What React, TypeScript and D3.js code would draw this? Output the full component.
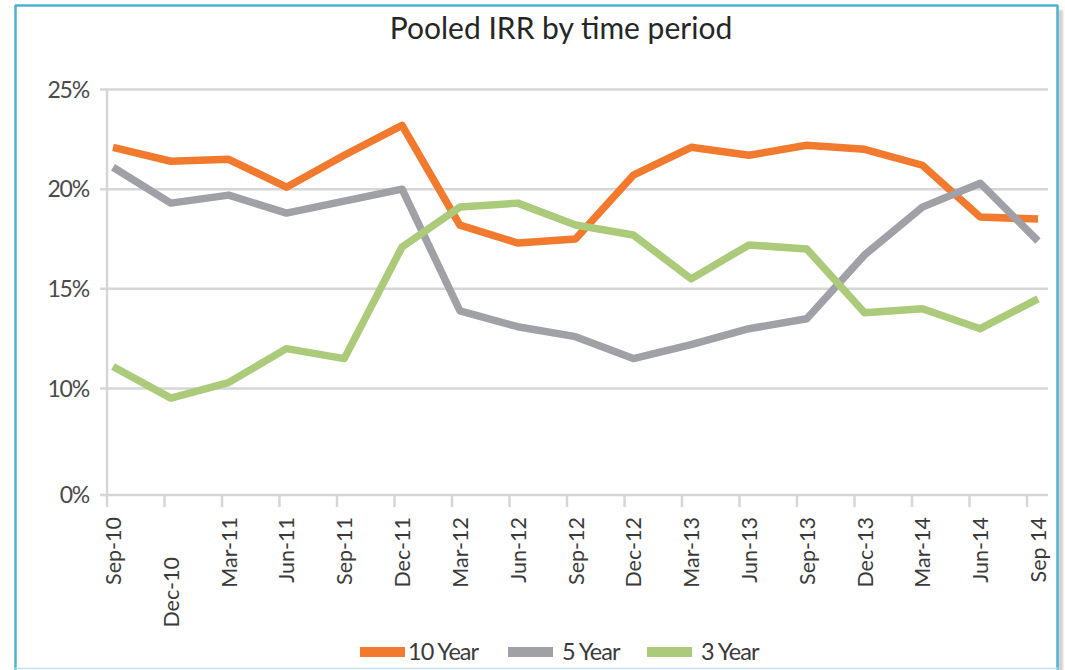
import React from "react";
import * as d3 from "d3";

const categories = ["Sep-10","Dec-10","Mar-11","Jun-11","Sep-11","Dec-11","Mar-12","Jun-12","Sep-12","Dec-12","Mar-13","Jun-13","Sep-13","Dec-13","Mar-14","Jun-14","Sep 14"];
const tenYear = [22.1,21.4,21.5,20.1,21.7,23.2,18.2,17.3,17.5,20.7,22.1,21.7,22.2,22.0,21.2,18.6,18.5];
const fiveYear = [21.1,19.3,19.7,18.8,19.4,20.0,13.9,13.1,12.6,11.5,12.2,13.0,13.5,16.7,19.1,20.3,17.4];
const threeYear = [11.1,9.1,10.3,12.0,11.5,17.1,19.1,19.3,18.2,17.7,15.5,17.2,17.0,13.8,14.0,13.0,14.5];
const yTicks = [0, 10, 15, 20, 25];
const seriesNames = ["10 Year", "5 Year", "3 Year"];
const seriesColors = ["#F27A2E", "#A0A1A6", "#ABCB7B"];

const FONT = "Lato, 'Open Sans', sans-serif";

export default function App() {
  const series = [tenYear, fiveYear, threeYear];
  const xData = d3.scalePoint<string>().domain(categories).range([113, 1038]);
  const xTick = d3.scalePoint<string>().domain(categories).range([107, 1027]);
  const y = d3.scaleLinear().domain([0, 10, 25]).range([495, 388.5, 89.5]);
  const line = d3
    .line<number>()
    .x((_, i) => xData(categories[i]) as number)
    .y((d) => y(d));

  const gridColor = "#d6d6d8";
  const textColor = "#3a3a3a";

  const legendX = [360, 508, 647];

  return (
    <svg
      width={1065}
      height={670}
      style={{ position: "absolute", left: 0, top: 0, background: "#fff" }}
      fontFamily={FONT}
    >
      <defs>
        <filter id="blur1" x="-10%" y="-10%" width="120%" height="120%">
          <feGaussianBlur stdDeviation="1.2" />
        </filter>
      </defs>
      {/* frame shadow */}
      <rect x={1058} y={10} width={5} height={670} fill="#9a9a9a" opacity={0.45} filter="url(#blur1)" />
      {/* frame */}
      <line x1={15.5} y1={5} x2={15.5} y2={670} stroke="#4DB3D0" strokeWidth={2.5} />
      <line x1={15} y1={5.5} x2={1058} y2={5.5} stroke="#4DB3D0" strokeWidth={2.5} />
      <line x1={1057.5} y1={5} x2={1057.5} y2={670} stroke="#4DB3D0" strokeWidth={2.5} />
      <line x1={15} y1={668.5} x2={1058} y2={668.5} stroke="#BFE1EC" strokeWidth={1.5} />

      {/* title */}
      <text x={561} y={39} textAnchor="middle" fontSize={30} fill="#262626">
        Pooled IRR by time period
      </text>

      {/* gridlines */}
      {yTicks.map((t) => (
        <g key={t}>
          <line x1={100} x2={1048} y1={y(t)} y2={y(t)} stroke={gridColor} strokeWidth={2.5} />
          <text x={89} y={y(t)} dy="0.36em" textAnchor="end" fontSize={23} fill="#4a4a4a" letterSpacing={-1.2}>
            {t}%
          </text>
        </g>
      ))}
      {/* y axis */}
      <line x1={107} x2={107} y1={y(25)} y2={y(0)} stroke={gridColor} strokeWidth={2.5} />
      {/* x ticks */}
      {categories.map((c) => (
        <line key={c} x1={xTick(c)} x2={xTick(c)} y1={y(0)} y2={y(0) + 12} stroke={gridColor} strokeWidth={2.5} />
      ))}
      {/* x labels */}
      {categories.map((c, i) => {
        const lx = xData(c) as number;
        const ly = i === 1 ? 557 : 517;
        return (
          <text
            key={c}
            transform={`translate(${lx + 8},${ly}) rotate(-90)`}
            textAnchor="end"
            fontSize={21.5}
            fill={textColor}
          >
            {c}
          </text>
        );
      })}

      {/* lines */}
      {series.map((s, k) => (
        <path
          key={k}
          d={line(s) as string}
          fill="none"
          stroke={seriesColors[k]}
          strokeWidth={7.5}
          strokeLinejoin="round"
          strokeLinecap="butt"
        />
      ))}

      {/* legend */}
      {seriesNames.map((n, k) => (
        <g key={n} transform={`translate(${legendX[k]},652)`}>
          <rect x={0} y={-5} width={45} height={10} fill={seriesColors[k]} />
          <text x={k === 0 ? 48 : 54} y={0} dy="0.36em" fontSize={23.5} fill={textColor} letterSpacing={-1}>
            {n}
          </text>
        </g>
      ))}
    </svg>
  );
}
